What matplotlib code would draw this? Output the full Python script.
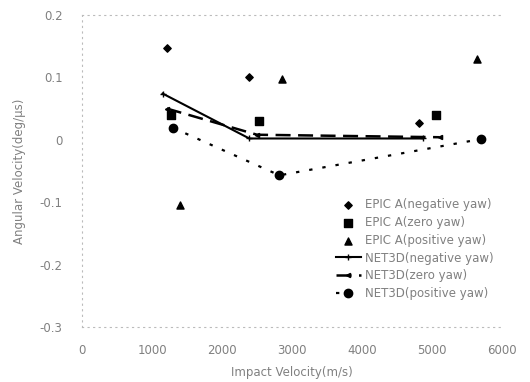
import matplotlib
matplotlib.use("Agg")
import matplotlib.pyplot as plt

# EPIC A data (scatter)
epic_neg_x = [1210, 2390, 4810]
epic_neg_y = [0.147, 0.101, 0.027]
epic_zero_x = [1270, 2530, 5060]
epic_zero_y = [0.040, 0.030, 0.039]
epic_pos_x = [1400, 2860, 5640]
epic_pos_y = [-0.105, 0.097, 0.130]

# NET3D data (lines)
net_neg_x = [1150, 2390, 4870]
net_neg_y = [0.074, 0.002, 0.002]
net_zero_x = [1210, 2500, 5110]
net_zero_y = [0.050, 0.008, 0.004]
net_pos_x = [1300, 2820, 5700]
net_pos_y = [0.019, -0.057, 0.001]

xticks = [0, 1000, 2000, 3000, 4000, 5000, 6000]
yticks = [-0.3, -0.2, -0.1, 0, 0.1, 0.2]
ytick_labels = ["-0.3", "-0.2", "-0.1", "0", "0.1", "0.2"]

tc = "#808080"
fig = plt.figure(figsize=(5.3, 3.82), dpi=100)
ax = fig.add_axes([0.155, 0.144, 0.792, 0.817])

ax.scatter(epic_neg_x, epic_neg_y, marker="D", s=14, color="black", label="EPIC A(negative yaw)", zorder=3)
ax.scatter(epic_zero_x, epic_zero_y, marker="s", s=30, color="black", label="EPIC A(zero yaw)", zorder=3)
ax.scatter(epic_pos_x, epic_pos_y, marker="^", s=26, color="black", label="EPIC A(positive yaw)", zorder=3)
ax.plot(net_neg_x, net_neg_y, "-", color="black", lw=1.5, marker="+", ms=5, label="NET3D(negative yaw)")
ax.plot(net_zero_x, net_zero_y, color="black", lw=1.8, dashes=(6, 3), marker="<", ms=3, label="NET3D(zero yaw)")
ax.plot(net_pos_x, net_pos_y, color="black", lw=1.6, dashes=(1.5, 4.5), marker="o", ms=6, label="NET3D(positive yaw)")

ax.set_xlim(0, 6000)
ax.set_ylim(-0.3, 0.2)
ax.set_xticks(xticks)
ax.set_yticks(yticks)
ax.set_yticklabels(ytick_labels)
ax.tick_params(length=0, labelsize=8.5, labelcolor=tc, pad=14)
ax.tick_params(axis="x", pad=12)

for side in ["top", "bottom", "left"]:
    ax.spines[side].set_color("#bbbbbb")
    ax.spines[side].set_linestyle((0, (1, 4)))
    ax.spines[side].set_linewidth(0.8)
ax.spines["right"].set_visible(False)

ax.set_xlabel("Impact Velocity(m/s)", fontsize=8.5, color=tc, labelpad=7)
ax.set_ylabel("Angular Velocity(deg/\u03bcs)", fontsize=8.5, color=tc, labelpad=10)

leg = ax.legend(loc="lower right", bbox_to_anchor=(1.0, 0.06), frameon=False, fontsize=8.5,
                handlelength=2.2, handletextpad=0.3, labelspacing=0.4, borderpad=0.2)
for t in leg.get_texts():
    t.set_color(tc)

fig.savefig("out.png", dpi=100)
